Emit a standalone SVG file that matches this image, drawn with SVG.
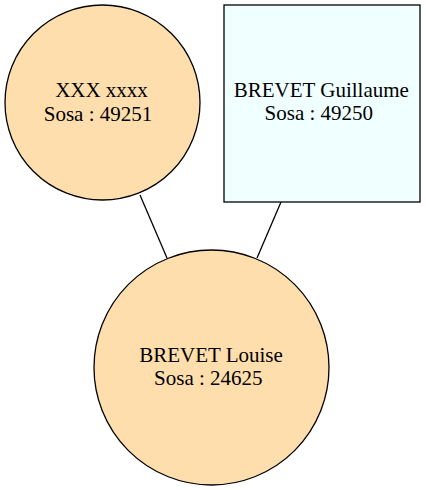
<svg xmlns="http://www.w3.org/2000/svg" width="426" height="490" viewBox="0 0 426 490">
<style>
.n{stroke:#000;stroke-width:1.3}
.f{fill:#ffdead}
.m{fill:#f0ffff}
text{font-family:"Liberation Serif","Times New Roman",serif;font-size:21px;fill:#000;text-anchor:middle}
.e{stroke:#000;stroke-width:1.3;fill:none}
</style>
<rect width="426" height="490" fill="#fff"/>
<g id="edges">
<line class="e" x1="140" y1="195" x2="167" y2="258"/>
<line class="e" x1="281" y1="202" x2="257" y2="258"/>
</g>
<g id="n49251">
<circle class="n f" cx="102.5" cy="102.5" r="97.5"/>
<text x="101.5" y="97">XXX xxxx</text>
<text x="98" y="120.5">Sosa : 49251</text>
</g>
<g id="n49250">
<rect class="n m" x="224" y="5" width="196" height="197"/>
<text x="321.3" y="96.7">BREVET Guillaume</text>
<text x="318.8" y="120">Sosa : 49250</text>
</g>
<g id="n24625">
<circle class="n f" cx="211.5" cy="367.5" r="117.5"/>
<text x="211" y="361.7">BREVET Louise</text>
<text x="208.3" y="385">Sosa : 24625</text>
</g>
</svg>
